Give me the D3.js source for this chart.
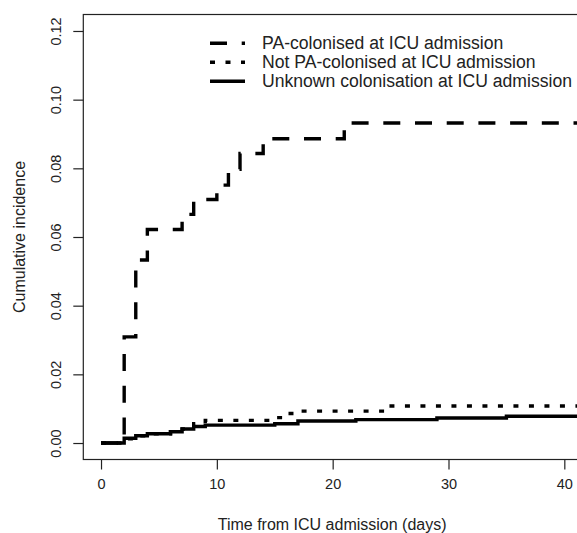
<!DOCTYPE html>
<html>
<head>
<meta charset="utf-8">
<script src="https://cdn.jsdelivr.net/npm/d3@7"></script>
<style>
  body { margin: 0; background: #fff; }
  svg { display: block; font-family: "Liberation Sans", Arial, sans-serif; }
</style>
</head>
<body>
<svg id="chart" width="577" height="533"></svg>
<script>
// Step times (days) and cumulative incidence
const paDays = [0, 2, 3, 4, 7, 8, 10, 11, 12, 14, 21, 42];
const paValues = [0, 0.0309, 0.0533, 0.0622, 0.0666, 0.0709, 0.0751, 0.0797, 0.0843, 0.0886, 0.0932, 0.0932];

const notPaDays = [0, 2, 3, 4, 6, 7, 8, 9, 15, 16, 17, 24.5, 42];
const notPaValues = [0, 0.0012, 0.0021, 0.0027, 0.0033, 0.0041, 0.0056, 0.0066, 0.0074, 0.0086, 0.0093, 0.0108, 0.0108];

const unknownDays = [0, 2, 3, 4, 6, 7, 8, 9, 15, 17, 22, 29, 35, 42];
const unknownValues = [0, 0.0014, 0.0021, 0.0027, 0.0033, 0.0041, 0.0048, 0.0052, 0.0056, 0.0064, 0.0068, 0.0073, 0.0078, 0.0078];

const xTicks = [0, 10, 20, 30, 40];
const yTicks = [0, 0.02, 0.04, 0.06, 0.08, 0.10, 0.12];

const legendLabels = [
    'PA-colonised at ICU admission',
    'Not PA-colonised at ICU admission',
    'Unknown colonisation at ICU admission'
];

const series = [
    { days: paDays, values: paValues, dash: '17,14.7' },
    { days: notPaDays, values: notPaValues, dash: '5,10.5' },
    { days: unknownDays, values: unknownValues, dash: null }
];

const svg = d3.select('#chart');

// Plot box (right edge runs just past the window, like the source)
const plotLeft = 83.3, plotRight = 581, plotTop = 14.5, plotBottom = 459.5;

const x = d3.scaleLinear().domain([-1.53, 41.44]).range([plotLeft, plotRight]);
const y = d3.scaleLinear().domain([-0.0048, 0.1248]).range([plotBottom, plotTop]);

svg.append('clipPath').attr('id', 'plot-clip')
    .append('rect')
    .attr('x', plotLeft).attr('y', plotTop)
    .attr('width', plotRight - plotLeft).attr('height', plotBottom - plotTop);

// Box around the plotting region
svg.append('rect')
    .attr('x', plotLeft).attr('y', plotTop)
    .attr('width', plotRight - plotLeft).attr('height', plotBottom - plotTop)
    .attr('fill', 'none')
    .attr('stroke', '#222')
    .attr('stroke-width', 1.2);

// X axis (ticks hang below the box)
const xAxis = svg.append('g')
    .attr('transform', `translate(0,${plotBottom})`)
    .call(d3.axisBottom(x).tickValues(xTicks).tickFormat(d3.format('d')).tickSize(10).tickPadding(9));
xAxis.select('.domain').remove();
xAxis.selectAll('line').attr('stroke', '#222').attr('stroke-width', 1.2);
xAxis.selectAll('text').attr('font-size', '14.5px').attr('fill', '#222');

// Y axis with rotated labels
const yAxis = svg.append('g')
    .attr('transform', `translate(${plotLeft},0)`)
    .call(d3.axisLeft(y).tickValues(yTicks).tickFormat(d3.format('.2f')).tickSize(10));
yAxis.select('.domain').remove();
yAxis.selectAll('line').attr('stroke', '#222').attr('stroke-width', 1.2);
yAxis.selectAll('text')
    .attr('font-size', '14.5px')
    .attr('fill', '#222')
    .attr('x', 0).attr('dy', null)
    .attr('text-anchor', 'middle')
    .attr('transform', 'translate(-27.5,0) rotate(-90)')
    .attr('dominant-baseline', 'central');

// Axis titles
svg.append('text')
    .attr('x', (plotLeft + plotRight) / 2)
    .attr('y', 530)
    .attr('text-anchor', 'middle')
    .attr('font-size', '16px')
    .attr('fill', '#222')
    .text('Time from ICU admission (days)');

svg.append('text')
    .attr('transform', `translate(19,${(plotTop + plotBottom) / 2}) rotate(-90)`)
    .attr('text-anchor', 'middle')
    .attr('dominant-baseline', 'central')
    .attr('font-size', '16px')
    .attr('fill', '#222')
    .text('Cumulative incidence');

// Step curves
const line = d3.line()
    .x(d => x(d[0]))
    .y(d => y(d[1]))
    .curve(d3.curveStepAfter);

const curves = svg.append('g').attr('clip-path', 'url(#plot-clip)');
series.forEach(s => {
    curves.append('path')
        .datum(s.days.map((d, i) => [d, s.values[i]]))
        .attr('d', line)
        .attr('fill', 'none')
        .attr('stroke', '#000')
        .attr('stroke-width', 3.4)
        .attr('stroke-dasharray', s.dash);
});

// Legend (no frame)
const legend = svg.append('g');
legendLabels.forEach((label, i) => {
    const ly = 43.3 + i * 19;
    legend.append('line')
        .attr('x1', 210).attr('x2', 245)
        .attr('y1', ly).attr('y2', ly)
        .attr('stroke', '#000')
        .attr('stroke-width', 3.4)
        .attr('stroke-dasharray', series[i].dash);
    legend.append('text')
        .attr('x', 262)
        .attr('y', ly)
        .attr('dominant-baseline', 'central')
        .attr('font-size', '17.6px')
        .attr('fill', '#222')
        .text(label);
});
</script>
</body>
</html>
